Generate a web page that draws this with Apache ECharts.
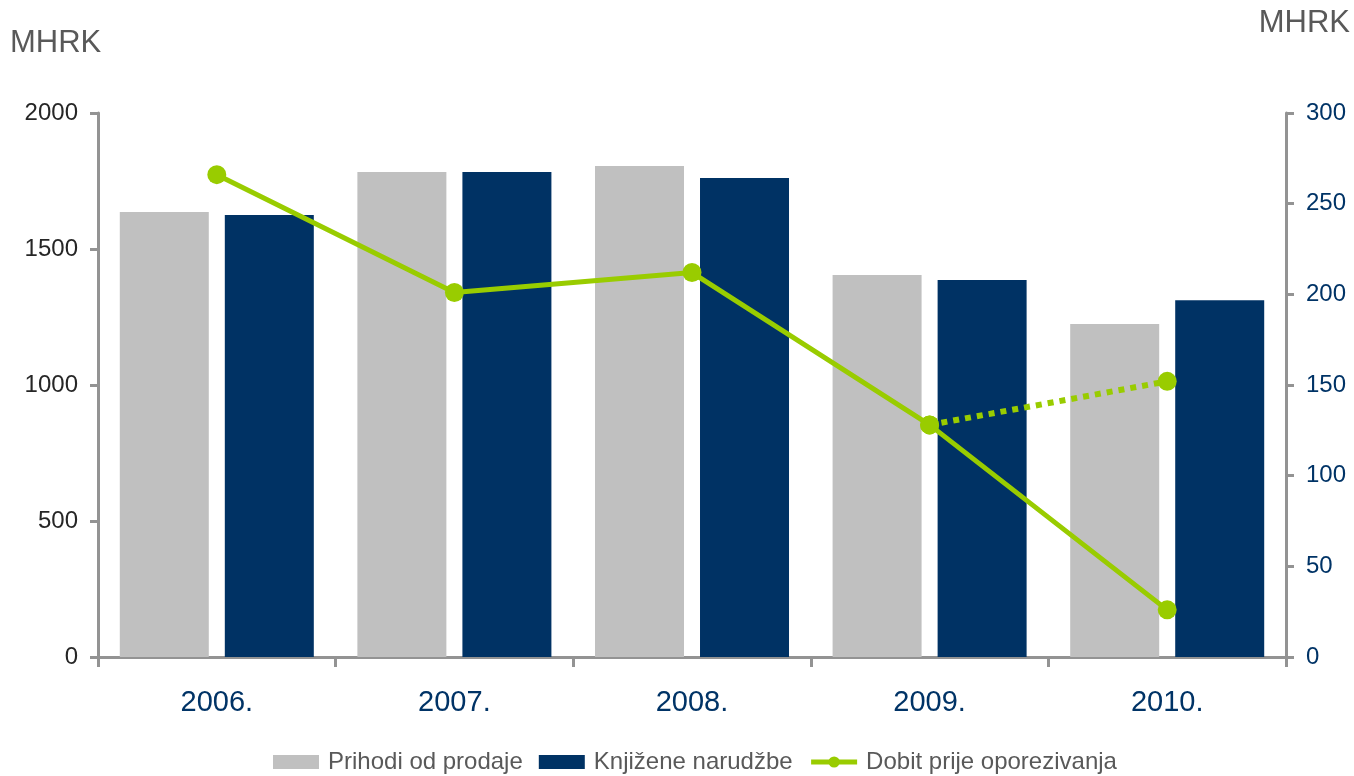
<!DOCTYPE html>
<html>
<head>
<meta charset="utf-8">
<script src="https://cdn.jsdelivr.net/npm/echarts@6/dist/echarts.min.js"></script>
<style>
html,body{margin:0;padding:0;background:#fff;}
#chart{width:1354px;height:776px;}
</style>
</head>
<body>
<div id="chart"></div>
<script>
var categories = ['2006.', '2007.', '2008.', '2009.', '2010.'];
var prihodi = [1636, 1783, 1805, 1404, 1224];
var narudzbe = [1625, 1783, 1761, 1386, 1312];
var dobit = [266, 201, 212, 128, 26];
var dobitProcjena = [null, null, null, 128, 152];
var leftTicks = {min: 0, max: 2000, interval: 500};
var rightTicks = {min: 0, max: 300, interval: 50};

var axisGray = '#939393';
var green = '#99CC00';
var chart = echarts.init(document.getElementById('chart'));
chart.setOption({
  animation: false,
  textStyle: {fontFamily: 'Liberation Sans, Arial, sans-serif'},
  grid: {left: 98, right: 68, top: 113, bottom: 119, containLabel: false},
  graphic: [
    {type: 'text', left: 10, top: 28, style: {text: 'MHRK', font: '31px "Liberation Sans", Arial, sans-serif', fill: '#595959'}},
    {type: 'text', right: 4, top: 8, style: {text: 'MHRK', font: '31px "Liberation Sans", Arial, sans-serif', fill: '#595959'}}
  ],
  legend: {
    data: [
      {name: 'Prihodi od prodaje', icon: 'rect'},
      {name: 'Knjižene narudžbe', icon: 'rect'},
      {name: 'Dobit prije oporezivanja', lineStyle: {width: 5}}
    ],
    left: 273,
    top: 750,
    padding: 0,
    itemWidth: 46,
    itemHeight: 14,
    itemGap: 16,
    textStyle: {fontSize: 24, color: '#595959', padding: [0, 0, 0, 4]}
  },
  xAxis: {
    type: 'category',
    data: categories,
    boundaryGap: true,
    axisLine: {lineStyle: {color: axisGray, width: 3}},
    axisTick: {show: true, interval: 0, length: 10, lineStyle: {color: axisGray, width: 3}},
    axisLabel: {fontSize: 29, color: '#003366', margin: 31}
  },
  yAxis: [
    {
      type: 'value', min: leftTicks.min, max: leftTicks.max, interval: leftTicks.interval,
      position: 'left',
      axisLine: {show: true, lineStyle: {color: axisGray, width: 3}},
      axisTick: {show: true, length: 8, lineStyle: {color: axisGray, width: 3}},
      splitLine: {show: false},
      axisLabel: {fontSize: 24, color: '#262626', margin: 20, formatter: function (v) { return String(v); }}
    },
    {
      type: 'value', min: rightTicks.min, max: rightTicks.max, interval: rightTicks.interval,
      position: 'right',
      axisLine: {show: true, lineStyle: {color: axisGray, width: 3}},
      axisTick: {show: true, length: 8, lineStyle: {color: axisGray, width: 3}},
      splitLine: {show: false},
      axisLabel: {fontSize: 24, color: '#003366', margin: 20, formatter: function (v) { return String(v); }}
    }
  ],
  series: [
    {
      name: 'Prihodi od prodaje', type: 'bar', data: prihodi, yAxisIndex: 0,
      barWidth: 89, barGap: '18%',
      itemStyle: {color: '#C0C0C0'}
    },
    {
      name: 'Knjižene narudžbe', type: 'bar', data: narudzbe, yAxisIndex: 0,
      barWidth: 89, barGap: '18%',
      itemStyle: {color: '#003264'}
    },
    {
      name: 'Dobit prije oporezivanja', type: 'line', data: dobit, yAxisIndex: 1,
      symbol: 'circle', symbolSize: 19, z: 5,
      lineStyle: {color: green, width: 5},
      itemStyle: {color: green}
    },
    {
      name: 'Dobit procjena', type: 'line', data: dobitProcjena, yAxisIndex: 1,
      symbol: 'circle', symbolSize: 19, z: 4,
      lineStyle: {color: green, width: 6, type: [6, 6], cap: 'butt'},
      itemStyle: {color: green}
    }
  ]
});
</script>
</body>
</html>
